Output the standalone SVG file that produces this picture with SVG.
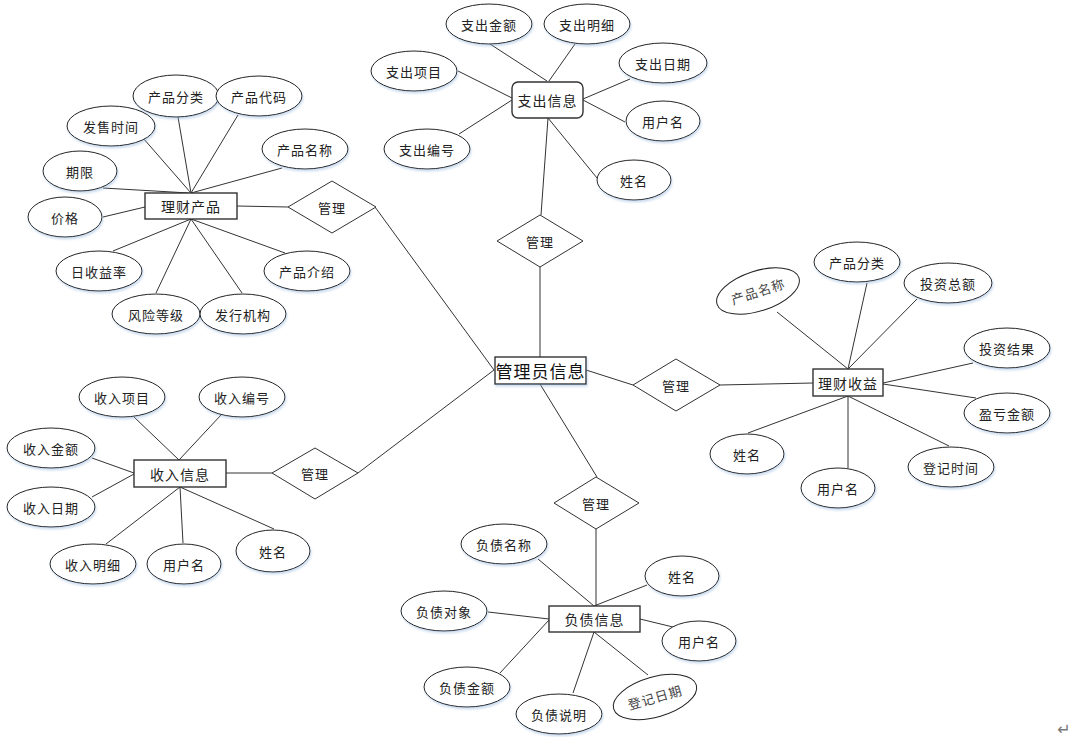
<svg xmlns="http://www.w3.org/2000/svg" width="1077" height="737" viewBox="0 0 1077 737">
<style>
.c line{stroke:#333;stroke-width:1}
.e{fill:#fff;stroke:#222;stroke-width:1;filter:url(#sh)}
.er{fill:#fff;stroke:#222;stroke-width:1}
.r{fill:#fff;stroke:#333;stroke-width:1.4}
.d{fill:#fff;stroke:#333;stroke-width:1}
text{font-family:"Noto Sans CJK SC","Microsoft YaHei",sans-serif;font-size:13px;fill:#222;text-anchor:middle;dominant-baseline:central;letter-spacing:1px}
.t14{font-size:14px}
.t16{font-size:17px;letter-spacing:1px;fill:#111}
</style>
<defs>
<filter id="sh" x="-20%" y="-20%" width="140%" height="150%">
<feDropShadow dx="1" dy="2" stdDeviation="1.2" flood-color="#8fb4dc" flood-opacity="0.45"/>
</filter>
</defs>
<rect width="1077" height="737" fill="#fff"/>
<g id="connectors" class="c">
<line x1="490" y1="44" x2="547" y2="81"/>
<line x1="575" y1="44" x2="549" y2="81"/>
<line x1="458" y1="71" x2="512" y2="98"/>
<line x1="459" y1="134" x2="512" y2="100"/>
<line x1="630" y1="79" x2="583" y2="99"/>
<line x1="625" y1="122" x2="583" y2="100"/>
<line x1="597" y1="178" x2="548" y2="118"/>
<line x1="548" y1="118" x2="541" y2="215"/>
<line x1="540" y1="267" x2="540" y2="357"/>
<line x1="586" y1="370" x2="633" y2="385"/>
<line x1="720" y1="385" x2="813" y2="383"/>
<line x1="777" y1="312" x2="848" y2="369"/>
<line x1="867" y1="283" x2="848" y2="369"/>
<line x1="917" y1="299" x2="848" y2="369"/>
<line x1="973" y1="363" x2="883" y2="383"/>
<line x1="976" y1="398" x2="883" y2="384"/>
<line x1="848" y1="396" x2="748" y2="433"/>
<line x1="848" y1="396" x2="848" y2="468"/>
<line x1="848" y1="396" x2="949" y2="446"/>
<line x1="540" y1="384" x2="597" y2="477"/>
<line x1="596" y1="529" x2="596" y2="606"/>
<line x1="538" y1="559" x2="594" y2="606"/>
<line x1="647" y1="585" x2="594" y2="606"/>
<line x1="488" y1="612" x2="549" y2="619"/>
<line x1="640" y1="619" x2="673" y2="627"/>
<line x1="500" y1="673" x2="549" y2="620"/>
<line x1="573" y1="693" x2="594" y2="632"/>
<line x1="648" y1="675" x2="594" y2="632"/>
<line x1="375" y1="207" x2="494" y2="370"/>
<line x1="494" y1="370" x2="358" y2="473"/>
<line x1="237" y1="206" x2="288" y2="207"/>
<line x1="178" y1="117" x2="191" y2="193"/>
<line x1="238" y1="115" x2="191" y2="193"/>
<line x1="143" y1="138" x2="191" y2="193"/>
<line x1="282" y1="168" x2="191" y2="193"/>
<line x1="103" y1="188" x2="189" y2="193"/>
<line x1="103" y1="217" x2="145" y2="207"/>
<line x1="191" y1="219" x2="113" y2="251"/>
<line x1="191" y1="219" x2="156" y2="293"/>
<line x1="191" y1="219" x2="242" y2="293"/>
<line x1="191" y1="219" x2="285" y2="253"/>
<line x1="226" y1="473" x2="272" y2="473"/>
<line x1="134" y1="417" x2="179" y2="460"/>
<line x1="221" y1="415" x2="179" y2="460"/>
<line x1="92" y1="458" x2="134" y2="473"/>
<line x1="92" y1="497" x2="134" y2="474"/>
<line x1="180" y1="487" x2="106" y2="544"/>
<line x1="180" y1="487" x2="183" y2="543"/>
<line x1="180" y1="487" x2="274" y2="529"/>
</g>

<g id="admin"><rect class="r" x="495" y="357" width="91" height="27" style="filter:url(#sh)"/><text class="t16" x="540.5" y="370.5">管理员信息</text></g>

<g id="rel-top"><polygon class="d" points="540,215 583,241 540,267 497,241"/><text x="540" y="241">管理</text></g>
<g id="rel-left"><polygon class="d" points="332,181 376,207 332,233 288,207"/><text x="332" y="207">管理</text></g>
<g id="rel-right"><polygon class="d" points="676,359 720,385 676,411 633,385"/><text x="676" y="385">管理</text></g>
<g id="rel-bottom"><polygon class="d" points="596,477 639,503 596,529 554,503"/><text x="596" y="503">管理</text></g>
<g id="rel-income"><polygon class="d" points="315,448 358,473 315,499 272,473"/><text x="315" y="473">管理</text></g>

<g id="expense"><rect class="r" x="512" y="82" width="71" height="36" rx="6" ry="6"/><text class="t14" x="547.5" y="100">支出信息</text></g>
<g id="exp-amount"><ellipse class="e" cx="489" cy="24" rx="43" ry="20"/><text x="489" y="24">支出金额</text></g>
<g id="exp-detail"><ellipse class="e" cx="587" cy="24" rx="43" ry="20"/><text x="587" y="24">支出明细</text></g>
<g id="exp-item"><ellipse class="e" cx="414" cy="71" rx="43" ry="20"/><text x="414" y="71">支出项目</text></g>
<g id="exp-date"><ellipse class="e" cx="663" cy="63" rx="44" ry="20"/><text x="663" y="63">支出日期</text></g>
<g id="exp-user"><ellipse class="e" cx="663" cy="121" rx="37" ry="20"/><text x="663" y="121">用户名</text></g>
<g id="exp-no"><ellipse class="e" cx="427" cy="149" rx="43" ry="20"/><text x="427" y="149">支出编号</text></g>
<g id="exp-name"><ellipse class="e" cx="634" cy="180" rx="37" ry="20"/><text x="634" y="180">姓名</text></g>

<g id="product"><rect class="r" x="145" y="193" width="92" height="26"/><text class="t14" x="191" y="206">理财产品</text></g>
<g id="p-cat"><ellipse class="e" cx="176" cy="96" rx="43" ry="21"/><text x="176" y="96">产品分类</text></g>
<g id="p-code"><ellipse class="e" cx="259" cy="96" rx="43" ry="20"/><text x="259" y="96">产品代码</text></g>
<g id="p-time"><ellipse class="e" cx="111" cy="126" rx="44" ry="20"/><text x="111" y="126">发售时间</text></g>
<g id="p-name"><ellipse class="e" cx="305" cy="149" rx="43" ry="20"/><text x="305" y="149">产品名称</text></g>
<g id="p-term"><ellipse class="e" cx="80" cy="171" rx="37" ry="20"/><text x="80" y="171">期限</text></g>
<g id="p-price"><ellipse class="e" cx="65" cy="217" rx="37" ry="20"/><text x="65" y="217">价格</text></g>
<g id="p-rate"><ellipse class="e" cx="99" cy="271" rx="43" ry="20"/><text x="99" y="271">日收益率</text></g>
<g id="p-intro"><ellipse class="e" cx="307" cy="271" rx="43" ry="20"/><text x="307" y="271">产品介绍</text></g>
<g id="p-risk"><ellipse class="e" cx="156" cy="314" rx="44" ry="20"/><text x="156" y="314">风险等级</text></g>
<g id="p-org"><ellipse class="e" cx="243" cy="314" rx="43" ry="20"/><text x="243" y="314">发行机构</text></g>

<g id="profit"><rect class="r" x="813" y="369" width="70" height="27"/><text class="t14" x="848" y="382.5">理财收益</text></g>
<g id="f-name"><ellipse class="er" cx="758" cy="291" rx="43" ry="20" transform="rotate(-18 758 291)"/><text x="758" y="291" transform="rotate(-18 758 291)" style="fill:#444">产品名称</text></g>
<g id="f-cat"><ellipse class="e" cx="857" cy="262" rx="43" ry="20"/><text x="857" y="262">产品分类</text></g>
<g id="f-total"><ellipse class="e" cx="948" cy="283" rx="44" ry="20"/><text x="948" y="283">投资总额</text></g>
<g id="f-result"><ellipse class="e" cx="1007" cy="348" rx="43" ry="20"/><text x="1007" y="348">投资结果</text></g>
<g id="f-pl"><ellipse class="e" cx="1007" cy="413" rx="43" ry="20"/><text x="1007" y="413">盈亏金额</text></g>
<g id="f-time"><ellipse class="e" cx="951" cy="467" rx="43" ry="20"/><text x="951" y="467">登记时间</text></g>
<g id="f-user"><ellipse class="e" cx="838" cy="488" rx="37" ry="20"/><text x="838" y="488">用户名</text></g>
<g id="f-xm"><ellipse class="e" cx="747" cy="454" rx="37" ry="20"/><text x="747" y="454">姓名</text></g>

<g id="debt"><rect class="r" x="549" y="606" width="91" height="26"/><text class="t14" x="594.5" y="619">负债信息</text></g>
<g id="d-name"><ellipse class="e" cx="504" cy="544" rx="43" ry="20"/><text x="504" y="544">负债名称</text></g>
<g id="d-xm"><ellipse class="e" cx="682" cy="576" rx="37" ry="20"/><text x="682" y="576">姓名</text></g>
<g id="d-obj"><ellipse class="e" cx="444" cy="611" rx="43" ry="20"/><text x="444" y="611">负债对象</text></g>
<g id="d-user"><ellipse class="e" cx="699" cy="641" rx="37" ry="20"/><text x="699" y="641">用户名</text></g>
<g id="d-amt"><ellipse class="e" cx="467" cy="687" rx="43" ry="20"/><text x="467" y="687">负债金额</text></g>
<g id="d-desc"><ellipse class="e" cx="559" cy="714" rx="43" ry="20"/><text x="559" y="714">负债说明</text></g>
<g id="d-date"><ellipse class="er" cx="655" cy="697" rx="43" ry="20" transform="rotate(-16 655 697)"/><text x="655" y="697" transform="rotate(-16 655 697)" style="fill:#444">登记日期</text></g>

<g id="income"><rect class="r" x="134" y="460" width="92" height="27"/><text class="t14" x="180" y="473.5">收入信息</text></g>
<g id="i-item"><ellipse class="e" cx="122" cy="397" rx="43" ry="20"/><text x="122" y="397">收入项目</text></g>
<g id="i-no"><ellipse class="e" cx="242" cy="397" rx="43" ry="20"/><text x="242" y="397">收入编号</text></g>
<g id="i-amt"><ellipse class="e" cx="51" cy="448" rx="44" ry="20"/><text x="51" y="448">收入金额</text></g>
<g id="i-date"><ellipse class="e" cx="51" cy="507" rx="44" ry="20"/><text x="51" y="507">收入日期</text></g>
<g id="i-detail"><ellipse class="e" cx="93" cy="564" rx="43" ry="20"/><text x="93" y="564">收入明细</text></g>
<g id="i-user"><ellipse class="e" cx="184" cy="564" rx="37" ry="20"/><text x="184" y="564">用户名</text></g>
<g id="i-xm"><ellipse class="e" cx="273" cy="551" rx="37" ry="21"/><text x="273" y="551">姓名</text></g>

<text x="1064" y="729" style="font-family:'DejaVu Sans',sans-serif;font-size:16px;fill:#777;letter-spacing:0">↵</text>
</svg>
